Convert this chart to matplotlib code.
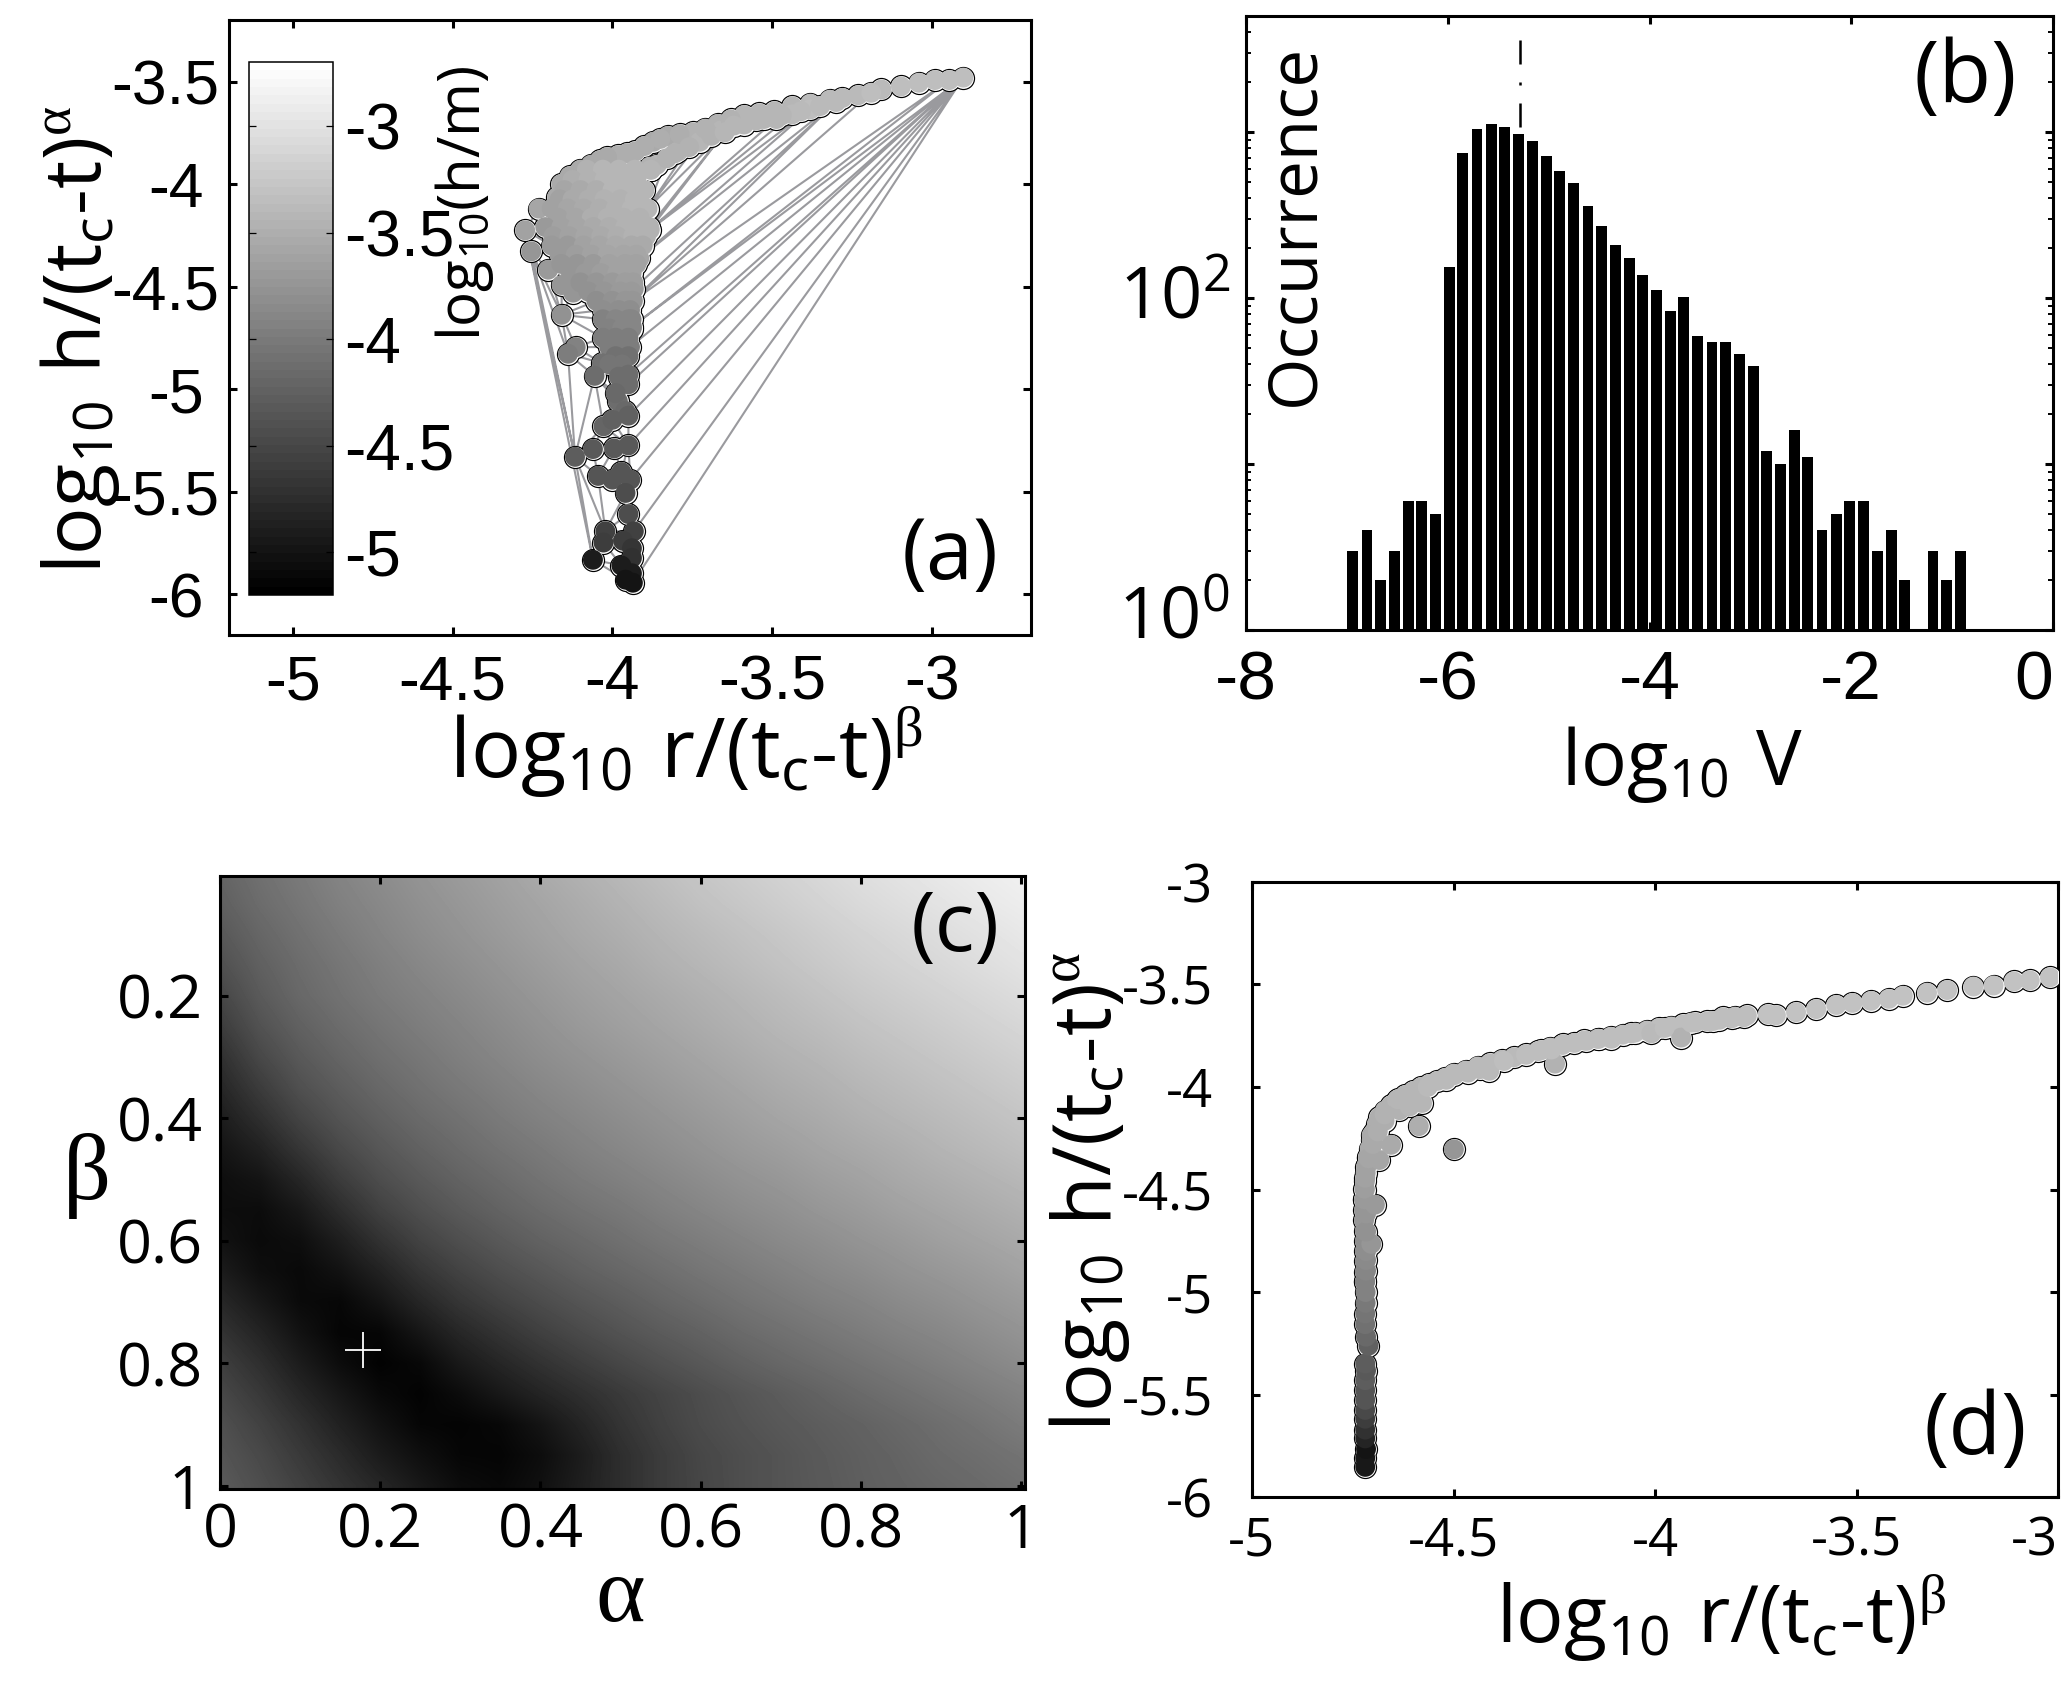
'''
plot.py
Four panel figure: collapse of h and r data, volume histogram, exponent map
'''

# IMPORTS
import matplotlib
matplotlib.use('Agg')
import numpy as np
import matplotlib.pyplot as plt

# DATA

# Panel (a): raw collapse, x, y and colour value of each point
a_x = [-2.902, -2.946, -2.991, -3.041, -3.097, -3.158, -3.231, -3.32, -3.381, -3.437,
       -3.493, -3.588, -3.671, -3.749, -3.827, -3.872, -3.928, -3.983, -4.017, -4.067,
       -4.134, -4.173, -4.231, -4.273, -4.254, -4.201, -4.159, -4.123, -4.159, -4.115,
       -4.139, -3.381, -3.437, -3.526, -3.588, -3.66, -3.727, -3.794, -3.861,
       -3.28, -3.19, -3.54, -3.63, -3.71, -3.79, -3.85, -3.90, -3.955, -4.04, -4.10, -4.16,
       -3.30, -3.35, -3.41, -3.47, -3.55, -3.62, -3.69, -3.76, -3.83, -3.88,
       -3.487, -3.649, -3.805, -3.883, -3.93, -3.914, -3.883, -3.916, -3.933, -3.939,
       -4.08, -4.03, -3.98, -3.93, -3.88,
       -4.125, -4.075, -4.025, -3.975, -3.925,
       -4.15, -4.10, -4.05, -4.0, -3.95, -3.90,
       -4.165, -4.125, -4.075, -4.025, -3.975, -3.93,
       -4.19, -4.14, -4.09, -4.04, -3.99, -3.94, -3.89,
       -4.17, -4.115, -4.065, -4.015, -3.965, -3.915,
       -4.21, -4.16, -4.11, -4.06, -4.01, -3.96, -3.91, -3.885,
       -4.185, -4.135, -4.085, -4.035, -3.985, -3.935, -3.895,
       -4.19, -4.14, -4.09, -4.04, -3.99, -3.94, -3.905,
       -4.165, -4.115, -4.065, -4.015, -3.965, -3.925,
       -4.16, -4.11, -4.06, -4.01, -3.96, -3.925,
       -4.13, -4.085, -4.035, -3.985, -3.94,
       -4.10, -4.05, -4.0, -3.96, -3.935,
       -4.075, -4.025, -3.975, -3.94,
       -4.05, -4.0, -3.96, -3.936,
       -4.03, -3.98, -3.945,
       -4.03, -3.99, -3.95, -3.94,
       -4.01, -3.97, -3.94,
       -4.03, -3.99, -3.95,
       -4.01, -3.97, -3.945,
       -4.033, -3.99, -3.95,
       -4.01, -3.97,
       -4.056, -3.98, -3.95, -3.983, -3.95, -3.99, -3.96,
       -4.028, -4.0, -3.95, -4.061, -4.117, -3.995, -3.95, -4.045, -4.0, -3.972, -3.944,
       -3.959, -3.95, -3.933, -4.022, -4.028, -3.967, -3.939, -3.939, -3.972, -4.061,
       -3.939, -3.959, -3.936]
a_y = [-3.481, -3.493, -3.493, -3.506, -3.524, -3.539, -3.567, -3.589, -3.608, -3.621,
       -3.645, -3.664, -3.707, -3.748, -3.766, -3.794, -3.841, -3.86, -3.869, -3.906,
       -3.962, -4.064, -4.12, -4.226, -4.329, -4.418, -4.493, -4.53, -4.638, -4.796,
       -4.828, -3.636, -3.66, -3.683, -3.71, -3.739, -3.794, -3.841, -3.906,
       -3.58, -3.555, -3.655, -3.685, -3.73, -3.757, -3.78, -3.815, -3.85, -3.885, -3.93, -4.0,
       -3.60, -3.62, -3.645, -3.665, -3.69, -3.715, -3.765, -3.82, -3.875, -3.93,
       -3.683, -3.748, -3.85, -3.915, -4.046, -4.139, -4.223, -4.363, -4.511, -4.697,
       -3.93, -3.93, -3.93, -3.93, -3.93,
       -3.98, -3.98, -3.98, -3.98, -3.98,
       -4.03, -4.03, -4.03, -4.03, -4.03, -4.03,
       -4.075, -4.075, -4.075, -4.075, -4.075, -4.075,
       -4.12, -4.12, -4.12, -4.12, -4.12, -4.12, -4.12,
       -4.165, -4.165, -4.165, -4.165, -4.165, -4.165,
       -4.21, -4.21, -4.21, -4.21, -4.21, -4.21, -4.21, -4.21,
       -4.255, -4.255, -4.255, -4.255, -4.255, -4.255, -4.255,
       -4.30, -4.30, -4.30, -4.30, -4.30, -4.30, -4.30,
       -4.345, -4.345, -4.345, -4.345, -4.345, -4.345,
       -4.39, -4.39, -4.39, -4.39, -4.39, -4.39,
       -4.435, -4.435, -4.435, -4.435, -4.435,
       -4.48, -4.48, -4.48, -4.48, -4.48,
       -4.525, -4.525, -4.525, -4.525,
       -4.57, -4.57, -4.57, -4.57,
       -4.615, -4.615, -4.615,
       -4.66, -4.66, -4.66, -4.66,
       -4.705, -4.705, -4.705,
       -4.75, -4.75, -4.75,
       -4.795, -4.795, -4.795,
       -4.874, -4.84, -4.84,
       -4.88, -4.88,
       -4.936, -4.94, -4.93, -5.06, -4.977, -5.02, -5.107,
       -5.182, -5.15, -5.13, -5.293, -5.331, -5.29, -5.275, -5.424, -5.442, -5.405, -5.442,
       -5.507, -5.61, -5.694, -5.694, -5.749, -5.74, -5.777, -5.824, -5.861, -5.833,
       -5.899, -5.93, -5.945]
a_c = [-3.34, -3.34, -3.34, -3.34, -3.36, -3.39, -3.39, -3.39, -3.39, -3.42,
       -3.42, -3.44, -3.46, -3.46, -3.55, -3.53, -3.51, -3.51, -3.53, -3.58,
       -3.55, -3.55, -3.58, -3.63, -3.73, -3.68, -3.73, -3.73, -3.78, -3.93,
       -3.96, -3.36, -3.39, -3.42, -3.42, -3.44, -3.44, -3.44, -3.44,
       -3.37, -3.36, -3.43, -3.45, -3.47, -3.50, -3.52, -3.50, -3.52, -3.54, -3.55, -3.55,
       -3.37, -3.38, -3.40, -3.41, -3.43, -3.44, -3.45, -3.45, -3.45, -3.45,
       -3.42, -3.44, -3.45, -3.45, -3.44, -3.46, -3.48, -3.58, -3.70, -3.85,
       -3.46, -3.44, -3.44, -3.44, -3.44,
       -3.50, -3.46, -3.44, -3.44, -3.44,
       -3.58, -3.53, -3.49, -3.44, -3.44, -3.44,
       -3.60, -3.55, -3.50, -3.46, -3.45, -3.44,
       -3.63, -3.58, -3.53, -3.49, -3.46, -3.44, -3.44,
       -3.62, -3.56, -3.52, -3.48, -3.46, -3.45,
       -3.68, -3.63, -3.58, -3.53, -3.49, -3.46, -3.46, -3.46,
       -3.66, -3.62, -3.57, -3.53, -3.50, -3.48, -3.48,
       -3.68, -3.68, -3.63, -3.58, -3.55, -3.53, -3.53,
       -3.70, -3.66, -3.62, -3.58, -3.56, -3.56,
       -3.73, -3.73, -3.68, -3.63, -3.61, -3.61,
       -3.72, -3.70, -3.66, -3.63, -3.62,
       -3.78, -3.73, -3.68, -3.66, -3.66,
       -3.78, -3.74, -3.71, -3.70,
       -3.81, -3.78, -3.75, -3.75,
       -3.82, -3.80, -3.80,
       -3.93, -3.9, -3.88, -3.88,
       -3.92, -3.90, -3.90,
       -3.98, -3.98, -3.98,
       -3.98, -3.97, -3.97,
       -4.07, -4.07, -4.07,
       -4.05, -4.05,
       -4.12, -4.12, -4.12, -4.12, -4.12, -4.17, -4.17,
       -4.22, -4.24, -4.24, -4.32, -4.27, -4.32, -4.32, -4.37, -4.37, -4.37, -4.37,
       -4.42, -4.42, -4.56, -4.56, -4.61, -4.61, -4.66, -4.71, -4.91, -4.91,
       -4.91, -5.0, -5.0]
cbar_ticks = [-3, -3.5, -4, -4.5, -5]
cbar_labels = ['-3', '-3.5', '-4', '-4.5', '-5']

# Panel (b): histogram of log10 V
bin_centres = [-6.94, -6.80, -6.67, -6.53, -6.39, -6.26, -6.12, -5.98, -5.85, -5.71,
               -5.57, -5.44, -5.30, -5.16, -5.02, -4.89, -4.75, -4.61, -4.48, -4.34,
               -4.20, -4.07, -3.93, -3.79, -3.66, -3.52, -3.38, -3.25, -3.11, -2.97,
               -2.84, -2.70, -2.56, -2.43, -2.29, -2.15, -2.02, -1.88, -1.74, -1.60,
               -1.47, -1.33, -1.19, -1.06, -0.92]
counts = [3, 4, 2, 3, 6, 6, 5, 154, 747, 1042,
          1117, 1072, 971, 879, 717, 581, 493, 357, 273, 209,
          174, 138, 112, 83, 102, 59, 54, 54, 46, 39,
          12, 10, 16, 11, 4, 5, 6, 6, 3, 4,
          2, 1, 3, 2, 3]
mode_x = [-5.28, -5.28]
mode_y = [1070, 4440]

# Panel (c): grey level of the misfit map, rows are beta, columns are alpha
map_alpha_edges = [-0.025, 1.025]
map_beta_edges = [1.025, -0.025]
misfit = [
    [100, 112, 122, 132, 140, 148, 155, 162, 170, 177, 184, 191, 198, 204, 210, 216, 222, 227, 232, 236, 240],
    [95, 108, 118, 128, 136, 144, 151, 158, 165, 172, 179, 186, 193, 199, 205, 211, 217, 222, 227, 232, 236],
    [88, 102, 113, 123, 132, 140, 147, 154, 161, 168, 174, 181, 187, 193, 199, 205, 211, 216, 221, 226, 231],
    [80, 96, 108, 118, 127, 135, 142, 149, 156, 163, 169, 176, 182, 188, 194, 200, 206, 211, 216, 221, 226],
    [70, 90, 104, 114, 123, 130, 137, 144, 151, 158, 164, 170, 176, 182, 188, 194, 200, 205, 210, 215, 220],
    [60, 82, 97, 108, 117, 125, 132, 139, 146, 153, 159, 165, 171, 177, 183, 188, 194, 199, 204, 209, 214],
    [48, 72, 89, 101, 111, 119, 127, 134, 141, 147, 153, 159, 165, 171, 177, 182, 188, 193, 198, 203, 208],
    [38, 60, 80, 93, 104, 113, 121, 128, 135, 141, 147, 153, 159, 165, 171, 176, 182, 187, 192, 197, 202],
    [28, 47, 68, 84, 96, 106, 114, 122, 129, 135, 141, 147, 153, 159, 165, 170, 176, 181, 186, 191, 196],
    [20, 33, 54, 73, 87, 98, 107, 115, 122, 129, 135, 141, 147, 153, 158, 164, 169, 174, 180, 185, 190],
    [14, 20, 38, 60, 77, 89, 99, 107, 115, 122, 128, 134, 140, 146, 151, 157, 162, 168, 173, 178, 183],
    [13, 12, 24, 45, 65, 79, 90, 99, 107, 114, 120, 127, 133, 139, 144, 150, 155, 161, 166, 171, 176],
    [18, 10, 14, 30, 50, 67, 79, 89, 98, 105, 112, 119, 125, 131, 137, 142, 148, 153, 159, 164, 169],
    [28, 14, 9, 18, 34, 53, 67, 78, 87, 96, 103, 110, 117, 123, 129, 135, 140, 146, 151, 156, 162],
    [40, 24, 10, 7, 20, 38, 54, 66, 76, 85, 93, 101, 108, 115, 121, 127, 132, 138, 143, 149, 154],
    [52, 36, 18, 5, 6, 22, 39, 52, 64, 74, 83, 91, 98, 106, 112, 118, 124, 130, 135, 141, 147],
    [63, 47, 28, 12, 2, 8, 25, 38, 50, 61, 71, 80, 88, 96, 103, 109, 115, 121, 127, 133, 139],
    [72, 57, 39, 23, 9, 3, 12, 24, 36, 47, 58, 68, 77, 85, 92, 99, 106, 112, 118, 124, 130],
    [80, 66, 50, 33, 18, 6, 4, 8, 20, 36, 52, 65, 75, 82, 88, 93, 98, 104, 110, 116, 123],
    [85, 73, 58, 43, 27, 15, 6, 5, 13, 28, 46, 60, 71, 78, 84, 90, 95, 100, 106, 110, 115],
    [90, 78, 65, 51, 38, 24, 12, 8, 16, 30, 46, 60, 70, 78, 84, 89, 94, 98, 102, 106, 110],
]
best_alpha = [0.179]
best_beta = [0.779]

# Panel (d): collapsed points
d_x = [-4.72, -4.72, -4.72, -4.72, -4.72, -4.72, -4.722, -4.722, -4.722, -4.72,
       -4.72, -4.718, -4.715, -4.712, -4.708, -4.703, -4.697, -4.69, -4.68, -4.67,
       -4.655, -4.64, -4.62, -4.60, -4.58, -4.56, -4.54, -4.52,
       -4.50, -4.47, -4.44, -4.41, -4.38, -4.35, -4.32, -4.29, -4.26, -4.23,
       -4.20, -4.17, -4.14, -4.11, -4.08, -4.05, -4.02, -3.99, -3.96, -3.93,
       -3.90, -3.87, -3.84, -3.81, -3.78,
       -4.719, -4.719, -4.717, -4.719, -4.719, -4.719, -4.719, -4.719, -4.719, -4.719,
       -4.717, -4.719, -4.711, -4.717, -4.719, -4.719, -4.718, -4.718, -4.719, -4.717,
       -4.717, -4.717, -4.704, -4.717, -4.717, -4.695, -4.721, -4.721, -4.719, -4.717,
       -4.684, -4.711, -4.655, -4.70, -4.703, -4.688, -4.684, -4.671, -4.671, -4.634,
       -4.638, -4.609, -4.615, -4.578, -4.584, -4.564, -4.518, -4.498, -4.464, -4.435,
       -4.411, -4.375, -4.32, -4.282, -4.248, -4.257, -4.228, -4.175, -4.142, -4.108,
       -4.059, -4.009, -3.935, -3.976, -3.91, -3.856, -3.831, -3.802, -3.772, -3.72,
       -3.70, -3.65, -3.60, -3.55, -3.51, -3.464, -3.42, -3.385, -3.325, -3.275,
       -3.21, -3.16, -3.11, -3.07, -3.02, -4.586, -4.499]
d_y = [-4.95, -4.90, -4.85, -4.80, -4.75, -4.70, -4.65, -4.60, -4.55, -4.50,
       -4.46, -4.42, -4.38, -4.34, -4.30, -4.26, -4.22, -4.18, -4.145, -4.115,
       -4.09, -4.065, -4.04, -4.02, -4.0, -3.985, -3.97, -3.955,
       -3.935, -3.92, -3.90, -3.885, -3.868, -3.855, -3.84, -3.825, -3.808, -3.795,
       -3.785, -3.775, -3.765, -3.755, -3.745, -3.735, -3.725, -3.712, -3.705, -3.695,
       -3.685, -3.68, -3.672, -3.665, -3.66,
       -5.853, -5.81, -5.766, -5.714, -5.671, -5.618, -5.575, -5.526, -5.479, -5.43,
       -5.383, -5.349, -5.262, -5.218, -5.157, -5.105, -5.053, -5.0, -4.948, -4.896,
       -4.844, -4.8, -4.765, -4.705, -4.617, -4.574, -4.548, -4.496, -4.443, -4.391,
       -4.356, -4.348, -4.282, -4.278, -4.235, -4.217, -4.148, -4.165, -4.134, -4.113,
       -4.06, -4.095, -4.04, -4.078, -4.008, -4.0, -3.965, -3.942, -3.93, -3.913,
       -3.921, -3.873, -3.843, -3.82, -3.886, -3.817, -3.791, -3.773, -3.765, -3.765,
       -3.738, -3.738, -3.759, -3.712, -3.686, -3.678, -3.66, -3.657, -3.651, -3.645,
       -3.65, -3.635, -3.62, -3.60, -3.59, -3.58, -3.57, -3.555, -3.54, -3.527,
       -3.51, -3.505, -3.485, -3.48, -3.465, -4.191, -4.304]
d_c = [-3.93, -3.88, -3.85, -3.83, -3.80, -3.78, -3.75, -3.72, -3.68, -3.65,
       -3.63, -3.61, -3.59, -3.57, -3.55, -3.53, -3.51, -3.49, -3.47, -3.46,
       -3.45, -3.44, -3.43, -3.42, -3.41, -3.40, -3.40, -3.39,
       -3.39, -3.39, -3.38, -3.38, -3.37, -3.37, -3.36, -3.36, -3.36, -3.35,
       -3.35, -3.34, -3.34, -3.34, -3.34, -3.34, -3.34, -3.34, -3.34, -3.34,
       -3.34, -3.34, -3.33, -3.33, -3.33,
       -4.95, -4.93, -4.98, -4.81, -4.73, -4.59, -4.49, -4.37, -4.37, -4.27,
       -4.32, -4.30, -4.24, -4.17, -4.10, -4.04, -4.0, -3.95, -3.93, -3.88,
       -3.85, -3.83, -3.75, -3.78, -3.73, -3.68, -3.68, -3.65, -3.63, -3.61,
       -3.58, -3.58, -3.55, -3.55, -3.53, -3.51, -3.49, -3.51, -3.46, -3.46,
       -3.44, -3.44, -3.42, -3.44, -3.42, -3.40, -3.39, -3.39, -3.39, -3.39,
       -3.39, -3.36, -3.36, -3.36, -3.46, -3.36, -3.34, -3.34, -3.34, -3.36,
       -3.34, -3.39, -3.46, -3.34, -3.34, -3.34, -3.34, -3.34, -3.34, -3.32,
       -3.32, -3.32, -3.32, -3.32, -3.32, -3.30, -3.30, -3.30, -3.29, -3.29,
       -3.29, -3.29, -3.29, -3.29, -3.29, -3.52, -3.72]

# Tick values and labels
a_xticks = [-5, -4.5, -4, -3.5, -3]
a_yticks = [-3.5, -4, -4.5, -5, -5.5, -6]
half_xlabels = ['-5', '-4.5', '-4', '-3.5', '-3']
a_ylabels = ['-3.5', '-4', '-4.5', '-5', '-5.5', '-6']
b_xticks = [-8, -6, -4, -2, 0]
b_xlabels = ['-8', '-6', '-4', '-2', '0']
b_yticks = [1, 10, 100, 1000]
b_named_ticks = [1, 100]
b_named_labels = [r'$10^{0}$', r'$10^{2}$']
c_xticks = [0, 0.2, 0.4, 0.6, 0.8, 1]
c_xlabels = ['0', '0.2', '0.4', '0.6', '0.8', '1']
c_yticks = [0.2, 0.4, 0.6, 0.8, 1]
c_ylabels = ['0.2', '0.4', '0.6', '0.8', '1']
d_yticks = [-3, -3.5, -4, -4.5, -5, -5.5, -6]
d_ylabels = ['-3', '-3.5', '-4', '-4.5', '-5', '-5.5', '-6']

# EXECUTION

W = 2068.0
H = 1694.0
LABEL = 'Open Sans'
TICK = 'Liberation Sans'

plt.rcParams['font.family'] = [LABEL, 'DejaVu Sans']
plt.rcParams['mathtext.fontset'] = 'custom'
plt.rcParams['mathtext.rm'] = LABEL
plt.rcParams['mathtext.it'] = LABEL
plt.rcParams['mathtext.bf'] = LABEL
plt.rcParams['mathtext.cal'] = 'Liberation Serif'
plt.rcParams['mathtext.default'] = 'regular'

fig = plt.figure(figsize=(W/100, H/100), dpi=100)


def add_axes_px(left, right, top, bottom):
    return fig.add_axes([left/W, 1 - bottom/H, (right - left)/W, (bottom - top)/H])


def text_px(x, y, s, size, **kw):
    kw.setdefault('ha', 'center')
    kw.setdefault('va', 'center')
    return fig.text(x/W, 1 - y/H, s, fontsize=size, color='k', **kw)


def style_axes(ax, lw=2.2, ticklen=6.0):
    for sp in ax.spines.values():
        sp.set_linewidth(lw)
    ax.tick_params(which='major', direction='in', top=True, right=True,
                   length=ticklen, width=lw)


def circles(ax, x, y, c):
    ax.scatter(x, y, s=280, c='k', linewidths=0, zorder=3)
    ax.scatter(x, y, s=225, c='w', linewidths=0, zorder=4)
    return ax.scatter(x, y, c=c, s=205, cmap=GREYS, vmin=-5.2, vmax=-2.7,
                      linewidths=0, zorder=5)


GREYS = plt.get_cmap('gray', 64)
H_LABEL = r'$log_{10}\ h/(t_c' + '\u2010' + r't)^{\mathcal{\alpha}}$'
R_LABEL = r'$log_{10}\ r/(t_c' + '\u2010' + r't)^{\mathcal{\beta}}$'

# Panel (a)
ax = add_axes_px(229, 1031, 20, 635)
ax.triplot(a_x, a_y, color='#9a9a9e', lw=1.5, zorder=1)
sc = circles(ax, a_x, a_y, a_c)
ax.set_xlim(-5.2, -2.69)
ax.set_ylim(-6.2, -3.2)
ax.set_xticks(a_xticks)
ax.set_xticklabels(half_xlabels, fontsize=45, family=TICK)
ax.set_yticks(a_yticks)
ax.set_yticklabels(a_ylabels, fontsize=45, family=TICK)
style_axes(ax)
ax.tick_params(axis='x', pad=13)
ax.tick_params(axis='y', pad=7)
for tick, lab in zip(ax.yaxis.get_major_ticks(), a_ylabels):
    if '.' not in lab:
        tick.label1.set_x(-0.019)

cax = add_axes_px(249, 333, 62, 595)
cb = fig.colorbar(sc, cax=cax)
cb.set_ticks(cbar_ticks)
cb.set_ticklabels(cbar_labels, fontsize=46, family=TICK)
cb.outline.set_linewidth(1.1)
cax.tick_params(direction='in', left=True, right=True, length=5, width=0.9, pad=8)
text_px(465, 203, r'$log_{10}(h/m)$', 42, rotation=90)
text_px(950, 557, '(a)', 61)
text_px(80, 340, H_LABEL, 57, rotation=90)
text_px(686, 778, R_LABEL, 60, va='baseline')

# Panel (b)
ax = add_axes_px(1246, 2053, 16, 630)
ax.bar(bin_centres, counts, width=0.108, color='k')
ax.plot(mode_x, mode_y, color='k', lw=1.8, dashes=(9.6, 7.2, 1.2, 7.2))
ax.set_yscale('log')
ax.set_xlim(-8, 0)
ax.set_ylim(1, 5000)
ax.set_xticks(b_xticks)
ax.set_xticklabels(b_xlabels, fontsize=50, family=TICK)
ax.get_xticklabels()[-1].set_ha('right')
ax.set_yticks(b_yticks)
ax.set_yticklabels(['', '', '', ''])
style_axes(ax)
ax.tick_params(axis='y', which='minor', direction='in', left=True, right=True,
               length=3.5, width=1.4, labelleft=False)
ax.tick_params(axis='x', pad=14)
for val, lab, down in zip(b_named_ticks, b_named_labels, [5.8, 14.4]):
    ax.annotate(lab, (0, val), xycoords=('axes fraction', 'data'),
                xytext=(-11.5, -down), textcoords='offset points',
                ha='right', va='baseline', fontsize=52, annotation_clip=False)
text_px(1296, 225, 'Occurrence', 48.5, rotation=90)
text_px(1965, 80, '(b)', 62)
text_px(1682, 785, r'$log_{10}\ V$', 55, va='baseline')

# Panel (c)
ax = add_axes_px(220, 1025, 876, 1489)
ax.imshow(np.array(misfit), cmap='gray', vmin=0, vmax=255, aspect='auto',
          interpolation='bilinear',
          extent=(map_alpha_edges[0], map_alpha_edges[1], map_beta_edges[0], map_beta_edges[1]))
ax.plot(best_alpha, best_beta, marker='+', color='w', ms=26, mew=1.3, ls='none')
ax.set_xlim(0.005, 1.005)
ax.set_ylim(1.005, 0.005)
ax.set_xticks(c_xticks)
ax.set_xticklabels(c_xlabels, fontsize=44)
ax.set_yticks(c_yticks)
ax.set_yticklabels(c_ylabels, fontsize=44)
style_axes(ax)
ax.tick_params(axis='x', pad=9)
ax.tick_params(axis='y', pad=12)
text_px(955, 930, '(c)', 60)
text_px(620, 1598, '\u03b1', 68, family='Liberation Serif')
text_px(87, 1176, '\u03b2', 68, family='Liberation Serif')

# Panel (d)
ax = add_axes_px(1252, 2058, 882, 1497)
circles(ax, d_x, d_y, d_c)
ax.set_xlim(-5, -3)
ax.set_ylim(-6, -3)
ax.set_xticks(a_xticks)
ax.set_xticklabels(half_xlabels, fontsize=38)
ax.get_xticklabels()[-1].set_ha('right')
ax.set_yticks(d_yticks)
ax.set_yticklabels(d_ylabels, fontsize=38)
style_axes(ax)
ax.tick_params(axis='x', pad=13)
ax.tick_params(axis='y', pad=28)
text_px(1975, 1432, '(d)', 62)
text_px(1090, 1192, H_LABEL, 58.5, rotation=90)
text_px(1721, 1642, R_LABEL, 57, va='baseline')

fig.savefig('out.png', dpi=100)
